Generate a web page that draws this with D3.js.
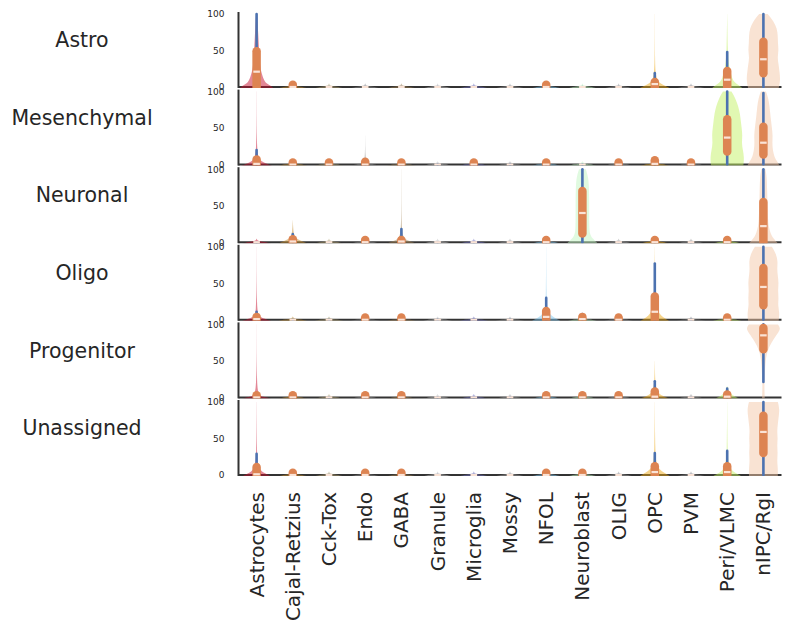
<!DOCTYPE html>
<html>
<head>
  <meta charset="utf-8">
  <title>violins by group</title>
  <style>
    body { margin: 0; background: #fff; }
    text { font-family: "DejaVu Sans", sans-serif; fill: #262626; }
  </style>
</head>
<body>
  <svg width="791" height="633"></svg>
  <script src="https://d3js.org/d3.v7.min.js"></script>
  <script>
  // categories (x) and groups (rows)
  var categories = ["Astrocytes", "Cajal-Retzius", "Cck-Tox", "Endo", "GABA", "Granule", "Microglia",
    "Mossy", "NFOL", "Neuroblast", "OLIG", "OPC", "PVM", "Peri/VLMC", "nIPC/RgI"];
  var groups = ["Astro", "Mesenchymal", "Neuronal", "Oligo", "Progenitor", "Unassigned"];
  var yTicks = [0, 50, 100];

  var catColors = ["#c8102e", "#c89030", "#b0a070", "#909090", "#a08050", "#c0c0c0", "#7070c0",
    "#a0a0a0", "#7fc8f0", "#c1f6c1", "#a0a0a0", "#edaa18", "#909090", "#c4f266", "#f4c8a8"];

  // box stats per category: [whisker low, q1, median, q3, whisker high]
  var boxAstro = [[0,0,21,49,100],[0,0,0,3,3],[0,0,0,0,0],[0,0,0,0,0],[0,0,0,0,0],[0,0,0,0,0],[0,0,0,0,0],
    [0,0,0,0,0],[0,0,0,3,3],[0,0,0,0,0],[0,0,0,0,0],[0,0,4,7,19],[0,0,0,0,0],[0,0,10,22,48],[0,19,38,62,100]];
  var boxMesenchymal = [[0,0,1,7,20],[0,0,0,3,3],[0,0,0,3,3],[0,0,0,4,4],[0,0,0,3,3],[0,0,0,0,0],[0,0,0,3,3],
    [0,0,0,0,0],[0,0,0,3,3],[0,0,0,0,0],[0,0,0,3,3],[0,0,1,6,9],[0,0,0,3,3],[0,18,37,62,100],[0,14,30,52,98]];
  var boxNeuronal = [[0,0,0,0,0],[0,0,1,4,11],[0,0,0,0,0],[0,0,0,3,3],[0,0,1,3,18],[0,0,0,0,0],[0,0,0,0,0],
    [0,0,0,0,0],[0,0,0,3,3],[0,12,40,70,100],[0,0,0,0,0],[0,0,0,3,3],[0,0,0,0,0],[0,0,0,3,3],[0,0,22,55,100]];
  var boxOligo = [[0,0,1,4,11],[0,0,0,0,0],[0,0,0,0,0],[0,0,0,3,3],[0,0,0,3,3],[0,0,0,0,0],[0,0,0,0,0],
    [0,0,0,0,0],[0,0,4,12,30],[0,0,1,4,8],[0,0,0,3,3],[0,0,11,32,77],[0,0,0,0,0],[0,0,0,3,3],[0,20,45,71,100]];
  var boxProgenitor = [[0,0,0,3,3],[0,0,0,3,3],[0,0,0,0,0],[0,0,0,3,3],[0,0,0,3,3],[0,0,0,0,0],[0,0,0,0,0],
    [0,0,0,0,0],[0,0,0,3,3],[0,0,0,3,3],[0,0,0,3,3],[0,0,1,8,22],[0,0,0,0,0],[0,0,1,4,12],[21,66,85,95,100]];
  var boxUnassigned = [[0,0,1,11,29],[0,0,0,3,3],[0,0,0,0,0],[0,0,0,3,3],[0,0,0,3,3],[0,0,0,0,0],[0,0,0,0,0],
    [0,0,0,0,0],[0,0,0,3,3],[0,0,0,3,3],[0,0,0,0,0],[0,0,4,12,30],[0,0,0,0,0],[0,0,4,12,33],[0,30,59,81,100]];
  var boxStats = [boxAstro, boxMesenchymal, boxNeuronal, boxOligo, boxProgenitor, boxUnassigned];

  // violin half widths (relative) at values
  var baseViolin = [[0,0.85],[0.6,0.45],[1.5,0.12],[3,0.03],[5,0]];
  var violinAstro = {
    "Astrocytes": [[0,1.0],[2,0.8],[5,0.55],[10,0.42],[20,0.28],[30,0.2],[50,0.15],[70,0.1],[90,0.06],[100,0.03]],
    "OPC": [[0,0.9],[2,0.55],[5,0.3],[10,0.12],[20,0.04],[40,0.008],[100,0.003]],
    "Peri/VLMC": [[0,0.9],[3,0.65],[6,0.45],[10,0.32],[20,0.2],[30,0.1],[50,0.03],[100,0.003]],
    "nIPC/RgI": [[0,0.9],[10,1.0],[20,0.95],[30,0.9],[40,0.82],[50,0.9],[60,0.85],[70,0.85],[80,0.8],[90,0.6],[100,0.25]]
  };
  var violinMesenchymal = {
    "Astrocytes": [[0,0.9],[2,0.5],[5,0.25],[10,0.1],[20,0.03],[50,0.006],[100,0.003]],
    "Endo": [[0,0.85],[1,0.4],[3,0.1],[10,0.01],[40,0.002]],
    "Peri/VLMC": [[0,0.95],[10,1.0],[20,0.92],[30,0.85],[40,0.9],[50,0.85],[60,0.8],[70,0.75],[80,0.65],[90,0.5],[100,0.25]],
    "nIPC/RgI": [[0,0.95],[5,0.8],[10,0.65],[20,0.55],[30,0.52],[40,0.55],[50,0.5],[60,0.45],[70,0.4],[80,0.36],[90,0.3],[100,0.15]]
  };
  var violinNeuronal = {
    "Cajal-Retzius": [[0,0.85],[2,0.45],[5,0.2],[10,0.04],[30,0.003]],
    "GABA": [[0,0.85],[2,0.4],[5,0.15],[15,0.02],[50,0.006],[100,0.003]],
    "Neuroblast": [[0,0.9],[5,0.6],[10,0.45],[20,0.4],[40,0.4],[60,0.4],[80,0.38],[90,0.33],[100,0.2]],
    "nIPC/RgI": [[0,0.85],[5,0.6],[10,0.45],[20,0.32],[30,0.27],[50,0.24],[70,0.22],[90,0.2],[100,0.12]]
  };
  var violinOligo = {
    "Astrocytes": [[0,0.85],[2,0.4],[5,0.15],[10,0.03],[50,0.005],[100,0.002]],
    "NFOL": [[0,0.85],[3,0.45],[8,0.2],[15,0.07],[30,0.015],[100,0.003]],
    "OPC": [[0,0.85],[3,0.5],[8,0.28],[15,0.15],[30,0.07],[50,0.03],[80,0.008],[100,0.003]],
    "nIPC/RgI": [[0,0.9],[10,0.95],[20,0.85],[30,0.9],[40,0.85],[50,0.9],[60,0.85],[70,0.8],[80,0.85],[90,0.75],[100,0.5]]
  };
  var violinProgenitor = {
    "Astrocytes": [[0,0.85],[1,0.4],[3,0.1],[20,0.006],[100,0.002]],
    "OPC": [[0,0.85],[3,0.35],[8,0.12],[20,0.02],[50,0.003]],
    "Peri/VLMC": [[0,0.7],[3,0.3],[8,0.1],[15,0.02]],
    "nIPC/RgI": [[0,0.08],[10,0.06],[20,0.06],[30,0.08],[40,0.1],[50,0.13],[60,0.2],[70,0.35],[80,0.6],[90,0.92],[95,1.0],[100,0.85]]
  };
  var violinUnassigned = {
    "Astrocytes": [[0,0.85],[3,0.4],[8,0.18],[15,0.07],[30,0.015],[100,0.003]],
    "OPC": [[0,0.9],[3,0.55],[8,0.25],[15,0.1],[30,0.02],[100,0.003]],
    "Peri/VLMC": [[0,0.85],[3,0.45],[8,0.2],[15,0.09],[30,0.02],[100,0.003]],
    "nIPC/RgI": [[0,0.85],[10,0.85],[20,0.8],[30,0.85],[40,0.8],[50,0.85],[60,0.8],[70,0.85],[80,0.9],[90,0.95],[100,0.85]]
  };
  var violins = [violinAstro, violinMesenchymal, violinNeuronal, violinOligo, violinProgenitor, violinUnassigned];

  // layout
  var svg = d3.select("svg");
  var left = 238.5, right = 781.5;
  var rowTop = 14, rowH = 73, rowStep = 77.6;
  var halfMax = 17;

  var x = d3.scaleBand().domain(categories).range([left, right]);
  var w = d3.scaleLinear().domain([0, 1]).range([0, halfMax]);
  var defs = svg.append("defs");

  groups.forEach(function(g, i) {
    var top = rowTop + i * rowStep;
    var y = d3.scaleLinear().domain([0, 100]).range([top + rowH, top]);
    var y0 = y(0);

    defs.append("clipPath").attr("id", "clip" + i)
      .append("rect")
      .attr("x", left).attr("y", y(100) - 6)
      .attr("width", right - left).attr("height", y0 + 1 - (y(100) - 6));

    // row label
    svg.append("text")
      .attr("x", 82).attr("y", top + 26)
      .attr("text-anchor", "middle").attr("dy", "0.35em")
      .style("font-size", "20.5px")
      .text(g);

    // y axis tick labels
    var ax = svg.append("g")
      .attr("transform", "translate(" + left + ",0)")
      .call(d3.axisLeft(y).tickValues(yTicks).tickSize(0).tickPadding(14));
    ax.select(".domain").remove();
    ax.selectAll("text").style("font-size", "9px").style("font-family", "DejaVu Sans").attr("fill", "#262626");

    // spines
    svg.append("line")
      .attr("x1", left).attr("x2", right).attr("y1", y0).attr("y2", y0)
      .attr("stroke", "#333").attr("stroke-width", 2);
    svg.append("line")
      .attr("x1", left).attr("x2", left).attr("y1", y(100) - 2).attr("y2", y0 + 1)
      .attr("stroke", "#333").attr("stroke-width", 2);

    var panel = svg.append("g").attr("clip-path", "url(#clip" + i + ")");

    // violins
    var area = d3.area()
      .y(function(d) { return d[0] === 0 ? y0 + 1.2 : y(d[0]); })
      .curve(d3.curveBasis);

    categories.forEach(function(c, j) {
      var cx = x(c) + x.bandwidth() / 2;
      var prof = violins[i][c] || baseViolin;
      area.x0(function(d) { return cx - w(d[1]); })
          .x1(function(d) { return cx + w(d[1]); });
      panel.append("path")
        .attr("d", area(prof))
        .attr("fill", catColors[j])
        .attr("fill-opacity", 0.5);
    });

    // boxes
    categories.forEach(function(c, j) {
      var s = boxStats[i][j];
      var cx = x(c) + x.bandwidth() / 2;
      panel.append("line")
        .attr("x1", cx).attr("x2", cx).attr("y1", y(s[0])).attr("y2", y(s[4]))
        .attr("stroke", "#4c72b0").attr("stroke-width", 2.6).attr("stroke-linecap", "round");
      if (s[3] > s[1]) {
        panel.append("line")
          .attr("x1", cx).attr("x2", cx).attr("y1", y(s[1])).attr("y2", y(s[3]))
          .attr("stroke", "#dd8452").attr("stroke-width", 8.5).attr("stroke-linecap", "round");
      }
      panel.append("rect")
        .attr("x", cx - 3.3).attr("y", y(s[2]) - 1.1)
        .attr("width", 6.6).attr("height", 2.2)
        .attr("fill", "#fae3d6");
    });
  });

  // x labels under last row
  var bottom = rowTop + 5 * rowStep + rowH;
  svg.append("g").selectAll("text")
    .data(categories)
    .join("text")
    .attr("transform", function(d) {
      return "translate(" + (x(d) + x.bandwidth() / 2) + "," + (bottom + 17) + ") rotate(-90)";
    })
    .attr("text-anchor", "end")
    .attr("dy", "0.35em")
    .style("font-size", "20px")
    .text(function(d) { return d; });
  </script>
</body>
</html>
